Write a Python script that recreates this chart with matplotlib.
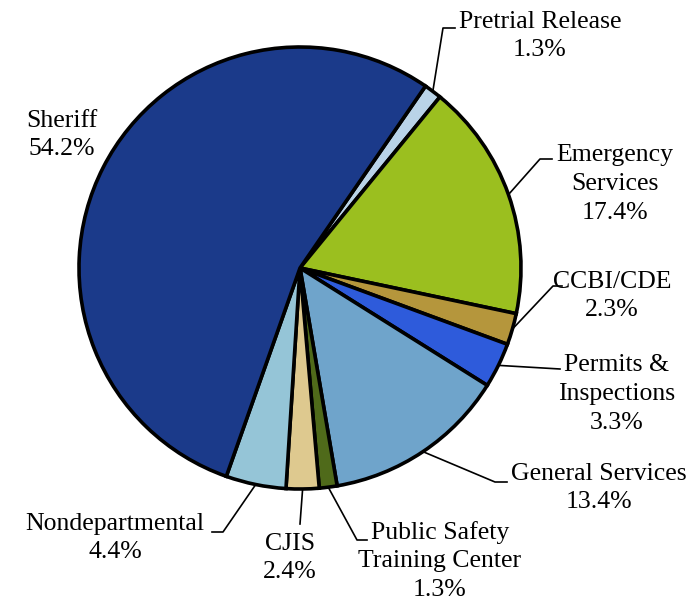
import numpy as np
import matplotlib
matplotlib.use('Agg')
import matplotlib.pyplot as plt

# slices, clockwise from the top
departments = ['Pretrial Release', 'Emergency\nServices', 'CCBI/CDE', 'Permits &\nInspections',
               'General Services', 'Public Safety\nTraining Center', 'CJIS', 'Nondepartmental', 'Sheriff']
shares = [1.3, 17.4, 2.3, 3.3, 13.4, 1.3, 2.4, 4.4, 54.2]
colors = ['#B9D3E8', '#9BBF1F', '#B5963C', '#2E5BDB', '#6FA4CB', '#4F6A1A', '#DEC98F', '#95C5D7', '#1B3A8A']

W, H = 691, 601

# label centres and leader elbows, in pixels from the top-left
label_pos = [(540, 36), (615, 184), (612, 296), (617, 394), (599, 488),
             (440, 561), (290, 558), (115, 538), (62, 135)]
elbows = [[(443, 28), (455, 28)],
          [(540, 159), (552, 159)],
          [(553, 286), (562, 286)],
          [(560, 369)],
          [(495, 482), (507, 482)],
          [(357, 540), (367, 540)],
          [(300, 524)],
          [(223, 532), (212, 532)],
          None]

fig = plt.figure(figsize=(W / 100, H / 100), dpi=100)
ax = fig.add_axes([0, 0, 1, 1])

cx, cy, r = 300, H - 268, 221
wedges, _ = ax.pie(shares, colors=colors, startangle=55.4, counterclock=False,
                   center=(cx, cy), radius=r,
                   wedgeprops=dict(edgecolor='black', linewidth=2.6))

font = dict(family=['Liberation Serif', 'DejaVu Serif'], size=18.5)

for w, name, val, (tx, ty), el in zip(wedges, departments, shares, label_pos, elbows):
    ax.text(tx, H - ty, f'{name}\n{val:.1f}%', ha='center', va='center',
            linespacing=1.4, **font)
    if el is None:
        continue
    mid = np.deg2rad((w.theta1 + w.theta2) / 2)
    xs = [cx + r * np.cos(mid)] + [p[0] for p in el]
    ys = [cy + r * np.sin(mid)] + [H - p[1] for p in el]
    ax.plot(xs, ys, color='black', linewidth=1.2, zorder=0)

ax.set_xlim(0, W)
ax.set_ylim(0, H)
ax.set_aspect('equal')
ax.axis('off')

fig.savefig('out.png', dpi=100, facecolor='white')
